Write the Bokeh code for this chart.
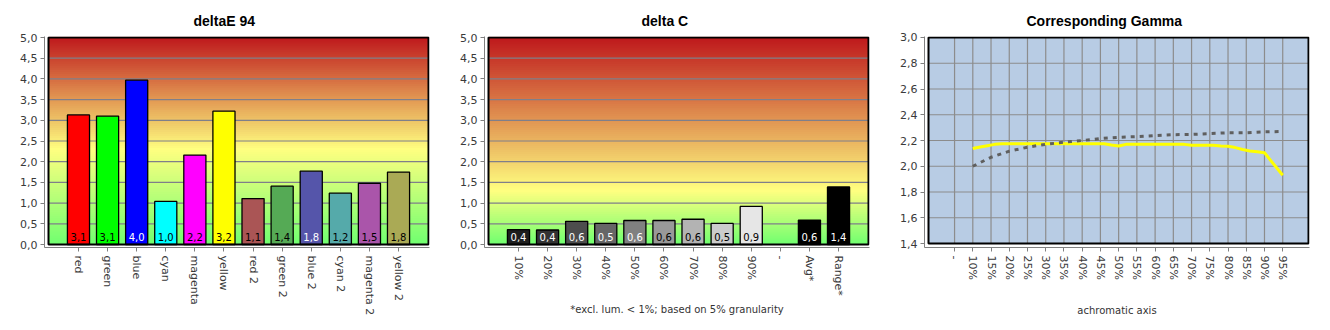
import numpy as np
from bokeh.plotting import figure
from bokeh.layouts import row
from bokeh.models import Range1d, FixedTicker, CustomJSTickFormatter, Title
from bokeh.core.properties import value
from bokeh.embed import file_html
from bokeh.resources import INLINE

FONT = "DejaVu Sans"
TITLE_FONT = "Liberation Sans"

# ---------------- data ----------------
de_categories = ["red", "green", "blue", "cyan", "magenta", "yellow",
                 "red 2", "green 2", "blue 2", "cyan 2", "magenta 2", "yellow 2"]
de_values = [3.13, 3.10, 3.97, 1.04, 2.16, 3.22, 1.11, 1.41, 1.77, 1.24, 1.48, 1.75]
de_labels = ["3,1", "3,1", "4,0", "1,0", "2,2", "3,2", "1,1", "1,4", "1,8", "1,2", "1,5", "1,8"]

dc_categories = ["10%", "20%", "30%", "40%", "50%", "60%", "70%", "80%", "90%", "-", "Avg*", "Range*"]
dc_values = [0.36, 0.35, 0.56, 0.51, 0.58, 0.58, 0.61, 0.51, 0.92, None, 0.59, 1.39]
dc_labels = ["0,4", "0,4", "0,6", "0,5", "0,6", "0,6", "0,6", "0,5", "0,9", "", "0,6", "1,4"]

y_ticks_bar = [0.0, 0.5, 1.0, 1.5, 2.0, 2.5, 3.0, 3.5, 4.0, 4.5, 5.0]

gm_tick_pct = [5, 10, 15, 20, 25, 30, 35, 40, 45, 50, 55, 60, 65, 70, 75, 80, 85, 90, 95]
gm_tick_labels = ["-", "10%", "15%", "20%", "25%", "30%", "35%", "40%", "45%", "50%",
                  "55%", "60%", "65%", "70%", "75%", "80%", "85%", "90%", "95%"]
gm_ref_pct = [10, 15, 20, 25, 30, 35, 40, 45, 50, 55, 60, 65, 70, 75, 80, 85, 90, 95]
gm_ref = [2.00, 2.07, 2.117, 2.148, 2.17, 2.187, 2.20, 2.215, 2.225, 2.23, 2.238, 2.245,
          2.247, 2.254, 2.26, 2.26, 2.267, 2.27]
gm_meas_pct = [10, 12, 14, 16, 18, 46, 48, 50, 52, 68, 70, 76, 78, 80, 82, 84, 86, 88, 90, 95]
gm_meas = [2.138, 2.15, 2.16, 2.17, 2.174, 2.174, 2.165, 2.158, 2.17, 2.17, 2.164, 2.164,
           2.158, 2.155, 2.145, 2.13, 2.118, 2.112, 2.105, 1.93]
gm_y_ticks = [1.4, 1.6, 1.8, 2.0, 2.2, 2.4, 2.6, 2.8, 3.0]

# ---------------- styles ----------------
de_colors = ["#ff0000", "#00ff00", "#0000ff", "#00ffff", "#ff00ff", "#ffff00",
             "#aa5555", "#55aa55", "#5555aa", "#55aaaa", "#aa55aa", "#aaaa55"]
de_text_colors = ["black", "black", "white", "black", "black", "black",
                  "black", "black", "white", "black", "black", "black"]
dc_colors = ["#1e1e1e", "#333333", "#4d4d4d", "#666666", "#808080", "#999999",
             "#b3b3b3", "#cccccc", "#e6e6e6", "#ffffff", "#000000", "#000000"]
dc_text_colors = ["white", "white", "white", "white", "white", "black",
                  "black", "black", "black", "black", "white", "white"]

AXIS_GRAY = "#808080"
LABEL_COLOR = "#3a3a3a"


def fmt():
    return CustomJSTickFormatter(code="return tick.toFixed(1).replace('.', ',')")


def mk_range(d0, d1, length, gap_lo, gap_hi):
    upp = (d1 - d0) / length
    return Range1d(d0 - gap_lo * upp, d1 + gap_hi * upp)


def lerp(c0, c1, t):
    return tuple(int(round(a + (b - a) * t)) for a, b in zip(c0, c1))


def grad_color(v, ystop, vmax):
    top = (190, 24, 28)
    yel = (255, 255, 128)
    grn = (112, 255, 112)
    if v >= ystop:
        c = lerp(yel, top, (v - ystop) / (vmax - ystop))
    else:
        c = lerp(grn, yel, v / ystop)
    return "#%02x%02x%02x" % c


def base_fig(width, mb_left, mb_right, mb_top, mb_bottom, xr, yr, title, title_offset):
    t = Title(text=title, align="left", offset=title_offset, text_font=TITLE_FONT,
              text_font_size="14px", text_font_style="bold", text_color="black",
              vertical_align="bottom", standoff=16)
    p = figure(width=width, height=330, x_range=xr, y_range=yr, title=t,
               output_backend="svg", toolbar_location=None,
               min_border=0, min_border_left=mb_left, min_border_right=mb_right,
               min_border_top=mb_top, min_border_bottom=mb_bottom)
    p.xgrid.visible = False
    p.ygrid.visible = False
    p.outline_line_color = None
    p.background_fill_color = "white"
    p.border_fill_color = "white"
    for ax in (p.xaxis[0], p.yaxis[0]):
        ax.axis_line_color = AXIS_GRAY
        ax.axis_line_width = 1
        ax.major_tick_line_color = AXIS_GRAY
        ax.major_tick_out = 4
        ax.major_tick_in = 0
        ax.minor_tick_line_color = None
        ax.major_label_text_font = FONT
        ax.major_label_text_font_size = "11px"
        ax.major_label_text_color = LABEL_COLOR
        ax.axis_label_text_font = FONT
        ax.axis_label_text_font_size = "10px"
        ax.axis_label_text_font_style = "normal"
        ax.axis_label_text_color = "#333333"
    p.yaxis.major_label_standoff = 3
    p.xaxis.major_label_standoff = 4
    p.xaxis.major_label_orientation = "vertical"
    return p


def bar_chart(title, title_offset, cats, vals, labels, colors, text_colors, ystop,
              xlabel, xlabel_standoff):
    n = len(cats)
    xi0, xi1 = -1.03, n - 1 + 1.03
    xr = mk_range(xi0, xi1, 380, 4, 1)
    yr = mk_range(0.0, 5.0, 207, 3, 1)
    # frame: x 44..429, y 36..247
    p = base_fig(440, 44, 11, 36, 83, xr, yr, title, title_offset)

    # gradient background
    edges = np.linspace(0.0, 5.0, 104)
    mids = (edges[:-1] + edges[1:]) / 2
    p.quad(left=xi0, right=xi1, bottom=edges[:-1], top=edges[1:] + 0.02,
           fill_color=[grad_color(v, ystop, 5.0) for v in mids], line_color=None)
    # grid
    g = [t for t in y_ticks_bar if 0 < t < 5]
    p.segment(x0=[xi0] * len(g), x1=[xi1] * len(g), y0=g, y1=g,
              line_color="#7f7f8a", line_width=1.2)

    xs = list(range(n))
    bx = [x for x, v in zip(xs, vals) if v is not None]
    bv = [v for v in vals if v is not None]
    bc = [c for c, v in zip(colors, vals) if v is not None]
    p.vbar(x=bx, width=0.76, bottom=0, top=bv, fill_color=bc,
           line_color="black", line_width=1.3)
    p.text(x=xs, y=[0] * n, text=labels, text_color=text_colors,
           text_align="center", text_baseline="middle", y_offset=-8,
           text_font=value(FONT), text_font_size="10px")
    # border of plot area
    p.quad(left=xi0, right=xi1, bottom=0, top=5, fill_color=None,
           line_color="black", line_width=2)

    p.yaxis.ticker = FixedTicker(ticks=y_ticks_bar)
    p.yaxis.formatter = fmt()
    p.xaxis.ticker = FixedTicker(ticks=xs)
    p.xaxis.major_label_overrides = {i: c for i, c in enumerate(cats)}
    if xlabel:
        p.xaxis.axis_label = xlabel
        p.xaxis.axis_label_standoff = xlabel_standoff
    return p


p1 = bar_chart("deltaE 94", 149, de_categories, de_values, de_labels, de_colors,
               de_text_colors, 2.3, None, 0)
p2 = bar_chart("delta C", 157, dc_categories, dc_values, dc_labels, dc_colors,
               dc_text_colors, 1.3, "*excl. lum. < 1%; based on 5% granularity", 5)

# ---------------- gamma chart ----------------
gx0, gx1 = -2.15, 102.07
gy0, gy1 = 1.4, 3.0
xr = mk_range(gx0, gx1, 380, 4, 1)
yr = mk_range(gy0, gy1, 207, 4, 1)
# frame: x 924..1309, y 36..248
p3 = base_fig(450, 44, 21, 36, 82, xr, yr, "Corresponding Gamma", 102)
p3.quad(left=gx0, right=gx1, bottom=gy0, top=gy1, fill_color="#b8cce4", line_color=None)
hg = [t for t in gm_y_ticks if gy0 < t < gy1]
p3.segment(x0=[gx0] * len(hg), x1=[gx1] * len(hg), y0=hg, y1=hg,
           line_color="#8c8c8c", line_width=1.2)
p3.segment(x0=gm_tick_pct, x1=gm_tick_pct, y0=[gy0] * len(gm_tick_pct),
           y1=[gy1] * len(gm_tick_pct), line_color="#8c8c8c", line_width=1.2)
p3.line(gm_meas_pct, gm_meas, line_color="#ffff00", line_width=3)
p3.line(gm_ref_pct, gm_ref, line_color="#5f5f5f", line_width=3, line_dash="4 5")
p3.quad(left=gx0, right=gx1, bottom=gy0, top=gy1, fill_color=None,
        line_color="black", line_width=2)
p3.yaxis.ticker = FixedTicker(ticks=gm_y_ticks)
p3.yaxis.formatter = fmt()
p3.xaxis.ticker = FixedTicker(ticks=gm_tick_pct)
p3.xaxis.major_label_overrides = {t: l for t, l in zip(gm_tick_pct, gm_tick_labels)}
p3.xaxis.axis_label = "achromatic axis"
p3.xaxis.axis_label_standoff = 22

layout = row(p1, p2, p3, spacing=0)
open("out.html", "w").write(file_html(layout, INLINE))
